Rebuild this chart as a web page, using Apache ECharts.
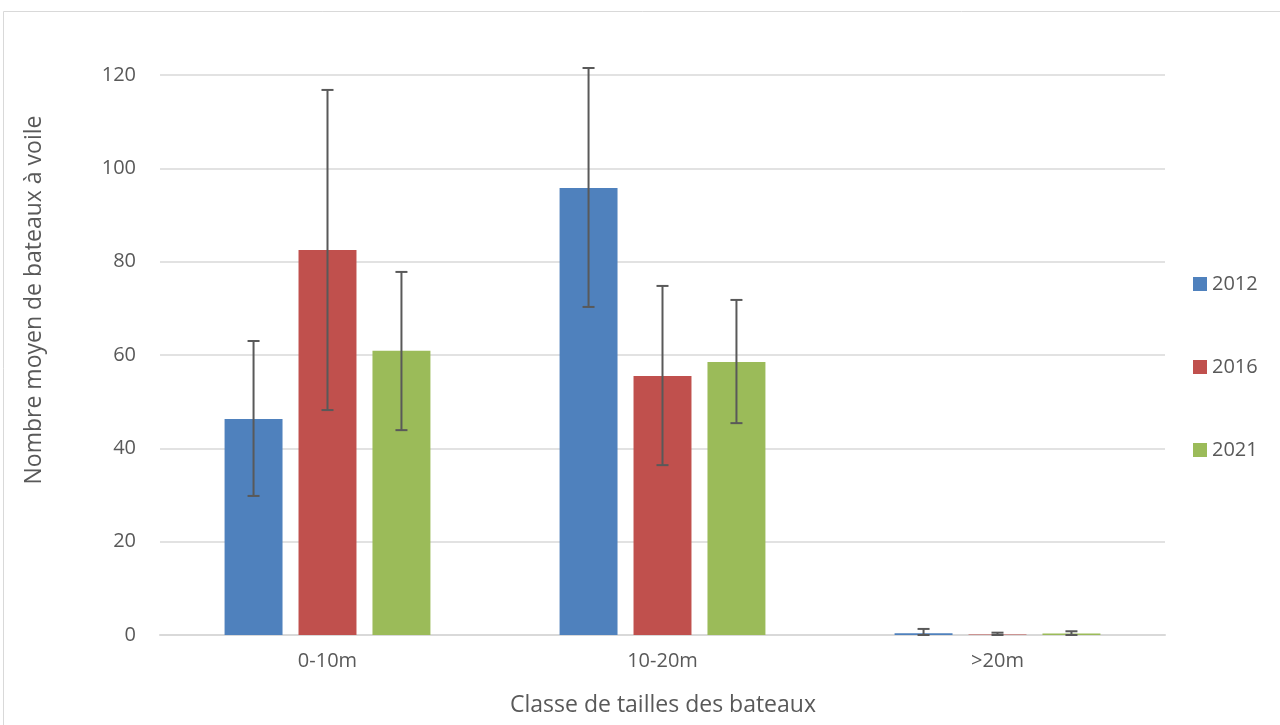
<!DOCTYPE html>
<html>
<head>
<meta charset="utf-8">
<style>html,body{margin:0;padding:0;background:#fff;}#c{width:1280px;height:725px;}</style>
<script src="https://cdn.jsdelivr.net/npm/echarts@6/dist/echarts.min.js"></script>
</head>
<body>
<div id="c"></div>
<script>
const categories = ['0-10m', '10-20m', '>20m'];
const years = ['2012', '2016', '2021'];
const values2012 = [46.3, 95.8, 0.4];
const values2016 = [82.5, 55.5, 0.1];
const values2021 = [60.9, 58.5, 0.3];
const low2012 = [29.8, 70.3, 0];
const high2012 = [63.0, 121.5, 1.3];
const low2016 = [48.2, 36.4, 0];
const high2016 = [116.8, 74.8, 0.5];
const low2021 = [43.9, 45.4, 0];
const high2021 = [77.8, 71.8, 0.8];
const yTicks = [0, 20, 40, 60, 80, 100, 120];

const colors = ['#4F81BD', '#C0504D', '#9BBB59'];
const values = [values2012, values2016, values2021];
const lows = [low2012, low2016, low2021];
const highs = [high2012, high2016, high2021];

const barFrac = 0.173;   // bar width as fraction of category band
const gapFrac = 0.276;   // gap between bars relative to bar width
const font = '"Open Sans", "Liberation Sans", sans-serif';

const series = [];
years.forEach((y, i) => {
  series.push({
    name: y, type: 'bar',
    data: values[i],
    barWidth: (barFrac * 100) + '%',
    barGap: (gapFrac * 100) + '%',
    itemStyle: { color: colors[i] },
    z: 2
  });
});
years.forEach((y, i) => {
  series.push({
    type: 'custom',
    name: y + ' err',
    data: categories.map((c, k) => [k, lows[i][k], highs[i][k]]),
    encode: { x: 0, y: [1, 2] },
    z: 5,
    silent: true,
    renderItem: function (params, api) {
      const k = api.value(0);
      const band = api.size([1, 0])[0];
      const off = (i - 1) * band * barFrac * (1 + gapFrac);
      const pLo = api.coord([k, api.value(1)]);
      const pHi = api.coord([k, api.value(2)]);
      const x = pLo[0] + off;
      const cap = 6;
      const st = { stroke: '#595959', lineWidth: 2 };
      return {
        type: 'group',
        children: [
          { type: 'line', shape: { x1: x, y1: pLo[1], x2: x, y2: pHi[1] }, style: st },
          { type: 'line', shape: { x1: x - cap, y1: pHi[1], x2: x + cap, y2: pHi[1] }, style: st },
          { type: 'line', shape: { x1: x - cap, y1: pLo[1], x2: x + cap, y2: pLo[1] }, style: st }
        ]
      };
    }
  });
});

const chart = echarts.init(document.getElementById('c'));
chart.setOption({
  animation: false,
  backgroundColor: '#fff',
  grid: { left: 160, right: 115, top: 75, bottom: 90, containLabel: false },
  legend: {
    data: years,
    orient: 'vertical',
    left: 1188, top: 268,
    itemWidth: 14, itemHeight: 14,
    itemGap: 61,
    icon: 'rect',
    textStyle: { fontFamily: font, fontSize: 20, color: '#595959', lineHeight: 22 }
  },
  xAxis: {
    type: 'category',
    data: categories,
    axisLine: { lineStyle: { color: '#D9D9D9', width: 2 } },
    axisTick: { show: false },
    axisLabel: { fontFamily: font, fontSize: 20, color: '#595959', margin: 16 }
  },
  yAxis: {
    type: 'value',
    min: 0, max: 120, interval: 20,
    axisLine: { show: false },
    axisTick: { show: false },
    splitLine: { lineStyle: { color: '#D9D9D9', width: 1.5 } },
    axisLabel: {
      fontFamily: font, fontSize: 20, color: '#595959', margin: 24,
      formatter: v => yTicks.includes(v) ? String(v) : ''
    }
  },
  graphic: [
    { type: 'rect', shape: { x: 3.5, y: 11.5, width: 1290, height: 730 },
      style: { fill: 'none', stroke: '#D9D9D9', lineWidth: 1 }, silent: true, z: -10 },
    { type: 'text', x: 34, y: 300, rotation: Math.PI / 2,
      style: { text: 'Nombre moyen de bateaux à voile', fontFamily: font, fontSize: 23,
        fill: '#595959', align: 'center', verticalAlign: 'middle' } },
    { type: 'text', x: 663, y: 705,
      style: { text: 'Classe de tailles des bateaux', fontFamily: font, fontSize: 23,
        fill: '#595959', align: 'center', verticalAlign: 'middle' } }
  ],
  series: series
});
</script>
</body>
</html>
